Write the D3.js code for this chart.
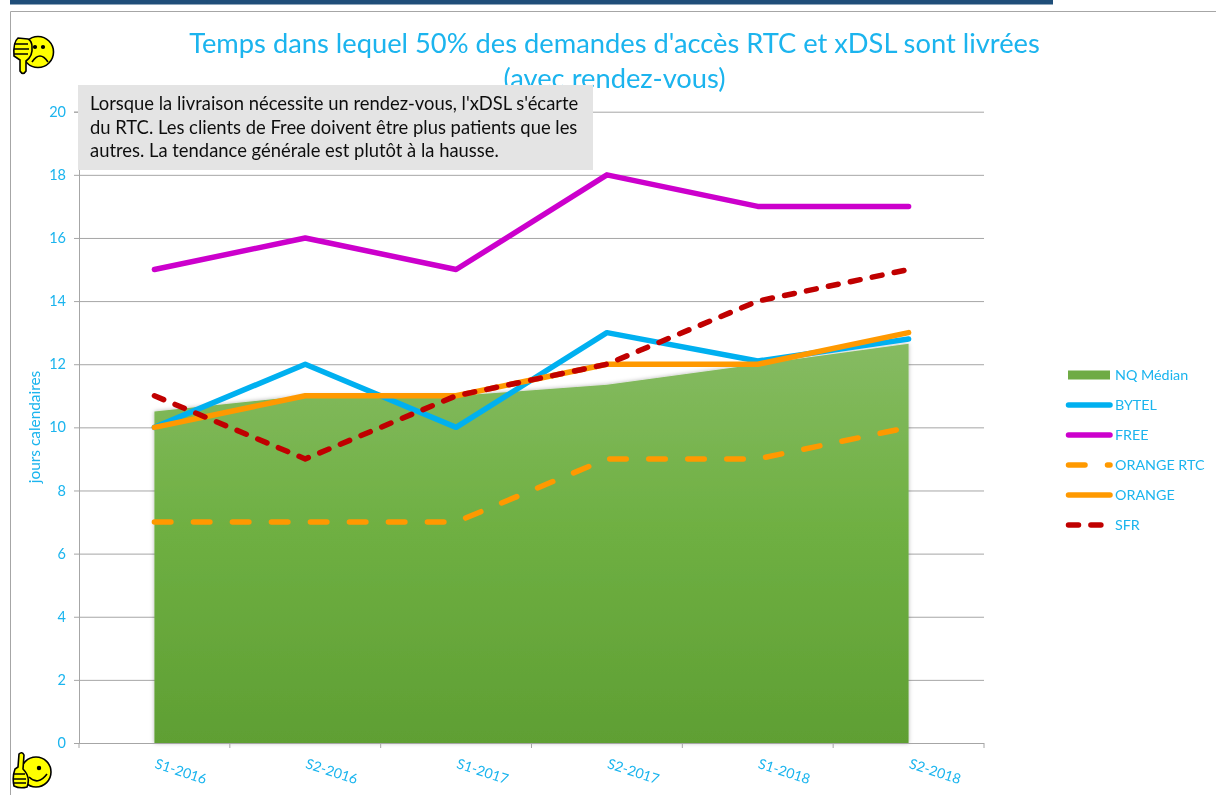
<!DOCTYPE html>
<html><head><meta charset="utf-8">
<script src="https://cdnjs.cloudflare.com/ajax/libs/d3/7.8.5/d3.min.js"></script>
<style>html,body{margin:0;background:#fff}svg{display:block}text{font-family:Lato,"Open Sans",sans-serif}</style>
</head><body><div id="chart"></div>
<script>
const categories=["S1-2016","S2-2016","S1-2017","S2-2017","S1-2018","S2-2018"];
const yTicks=[0,2,4,6,8,10,12,14,16,18,20];
const median=[10.5,11,11,11.35,12,12.65];
const bytel=[10,12,10,13,12.1,12.8];
const free=[15,16,15,18,17,17];
const orangeRtc=[7,7,7,9,9,10];
const orange=[10,11,11,12,12,13];
const sfr=[11,9,11,12,14,15];
const titleLines=["Temps dans lequel 50% des demandes d'accès RTC et xDSL sont livrées","(avec rendez-vous)"];
const noteLines=["Lorsque la livraison nécessite un rendez-vous, l'xDSL s'écarte","du RTC. Les clients de Free doivent être plus patients que les","autres. La tendance générale est plutôt à la hausse."];
const yTitle="jours calendaires";
const series=[
 {name:"BYTEL",values:bytel,color:"#00b0f0",dash:null},
 {name:"FREE",values:free,color:"#cc00cc",dash:null},
 {name:"ORANGE RTC",values:orangeRtc,color:"#ff9900",dash:"16.5 22.5"},
 {name:"ORANGE",values:orange,color:"#ff9900",dash:null},
 {name:"SFR",values:sfr,color:"#c00000",dash:"10 12.4"}];
const blue="#1ab4ee";
const W=1216,H=795;
const svg=d3.select("#chart").append("svg").attr("width",W).attr("height",H).attr("viewBox",`0 0 ${W} ${H}`);
const defs=svg.append("defs");
const g=defs.append("linearGradient").attr("id","ag").attr("x1",0).attr("x2",0).attr("y1",0).attr("y2",1);
g.append("stop").attr("offset","0%").attr("stop-color","#86bb62");
g.append("stop").attr("offset","45%").attr("stop-color","#6fb043");
g.append("stop").attr("offset","100%").attr("stop-color","#5f9f33");
const f=defs.append("filter").attr("id","sh").attr("x","-5%").attr("y","-5%").attr("width","110%").attr("height","110%");
f.append("feGaussianBlur").attr("in","SourceAlpha").attr("stdDeviation",2).attr("result","b");
f.append("feFlood").attr("flood-color","#000").attr("flood-opacity",.3);
f.append("feComposite").attr("in2","b").attr("operator","in").attr("result","s");
const mm=f.append("feMerge");mm.append("feMergeNode").attr("in","s");mm.append("feMergeNode").attr("in","SourceGraphic");
const soft=defs.append("filter").attr("id","soft").attr("x","-5%").attr("y","-20%").attr("width","110%").attr("height","140%");
soft.append("feGaussianBlur").attr("stdDeviation",.35);

// page frame
svg.append("rect").attr("x",10).attr("y",0).attr("width",1043).attr("height",4.5).attr("fill","#1f4e79");
svg.append("path").attr("d","M207 4V0M372 4V0M1045 4V0").attr("stroke","#1f4e79");
svg.append("path").attr("d","M10.5 795V11.5H1216").attr("fill","none").attr("stroke","#a6a6a6").attr("stroke-width",1);

const x=d3.scaleBand().domain(categories).range([79,984]);
const cx=d=>x(d)+x.bandwidth()/2;
const y=d3.scaleLinear().domain([0,20]).range([743,111.7]);

// axes
const gy=svg.append("g").attr("transform","translate(79,0)").call(d3.axisLeft(y).tickValues(yTicks).tickSize(5).tickPadding(8));
gy.select(".domain").attr("stroke","#a6a6a6");
gy.selectAll("line").attr("stroke","#a6a6a6");
gy.selectAll("text").attr("fill",blue).style("font-size","14.5px").attr("filter","url(#soft)");
svg.append("g").selectAll("line").data(yTicks.filter(d=>d>0)).join("line")
 .attr("x1",79).attr("x2",984).attr("y1",d=>y(d)+.5).attr("y2",d=>y(d)+.5).attr("stroke","#a6a6a6");

// area
const area=d3.area().x((d,i)=>cx(categories[i])).y0(y(0)).y1(d=>y(d));
svg.append("path").datum(median).attr("d",area).attr("fill","url(#ag)").attr("filter","url(#sh)");

svg.append("line").attr("x1",74).attr("x2",984).attr("y1",743.5).attr("y2",743.5).attr("stroke","#a6a6a6");
svg.append("g").selectAll("line").data(categories.concat(["end"])).join("line")
 .attr("x1",(d,i)=>i<6?x(d):984).attr("x2",(d,i)=>i<6?x(d):984).attr("y1",743).attr("y2",748).attr("stroke","#a6a6a6");
svg.append("g").attr("filter","url(#soft)").selectAll("text").data(categories).join("text")
 .attr("transform",d=>`translate(${cx(d)+25},776) rotate(18)`).attr("text-anchor","middle").attr("fill",blue)
 .style("font-size","14px").text(d=>d);

// lines
const line=d3.line().x((d,i)=>cx(categories[i])).y(d=>y(d));
svg.append("g").selectAll("path").data(series).join("path")
 .attr("d",d=>line(d.values)).attr("fill","none").attr("stroke",d=>d.color).attr("stroke-width",5.5)
 .attr("stroke-linecap","round").attr("stroke-linejoin","round").attr("stroke-dasharray",d=>d.dash);

// title
svg.append("g").attr("filter","url(#soft)").selectAll("text").data(titleLines).join("text")
 .attr("x",614.5).attr("y",(d,i)=>53+i*35).attr("text-anchor","middle").attr("fill",blue).style("font-size","27.3px").text(d=>d);

// note
svg.append("rect").attr("x",78).attr("y",85).attr("width",515).attr("height",85).attr("fill","#e4e4e4");
svg.append("g").attr("filter","url(#soft)").selectAll("text").data(noteLines).join("text")
 .attr("x",90).attr("y",(d,i)=>110+i*23.5).attr("fill","#111").style("font-size","18.4px").text(d=>d);

// y title
svg.append("text").attr("transform","translate(40,427) rotate(-90)").attr("text-anchor","middle").attr("fill",blue).attr("filter","url(#soft)").style("font-size","15.4px").text(yTitle);

// legend
const legend=[{name:"NQ Médian",area:true}].concat(series);
const ly=d3.scalePoint().domain(legend.map(d=>d.name)).range([375,525]);
const L=svg.append("g");
legend.forEach(d=>{
 const yy=ly(d.name);
 if(d.area){L.append("rect").attr("x",1068).attr("y",yy-4.5).attr("width",42).attr("height",9).attr("fill","#6fab45");}
 else{L.append("line").attr("x1",1068.5).attr("x2",1110).attr("y1",yy).attr("y2",yy).attr("stroke",d.color).attr("stroke-width",5.5)
   .attr("stroke-linecap","round").attr("stroke-dasharray",d.dash);}
 L.append("text").attr("x",1115).attr("y",yy+5).attr("fill",blue).attr("filter","url(#soft)").style("font-size","14.3px").text(d.name);
});

// thumbs icons
function thumbFace(cxp,cyp,up){
 const s=svg.append("g").attr("transform",`translate(${cxp},${cyp})`).attr("stroke","#000").attr("stroke-width",1.6).attr("fill","#ffff00");
 if(up){
  s.append("circle").attr("cx",0).attr("cy",0).attr("r",15);
  s.append("path").attr("d","M-13 -3 L-12 -17 Q-14 -21 -17 -18 L-18 -5 L-21 -3 Q-24 5 -22 14 Q-16 17 -9 15 Q-5 5 -13 -3Z");
  s.append("path").attr("d","M-23 2H-11M-23 7H-10M-22 11H-10").attr("fill","none");
  s.append("circle").attr("cx",3).attr("cy",-4).attr("r",1.4).attr("fill","#000");
  s.append("path").attr("d","M-7 5 Q2 14 11 2").attr("fill","none");
 } else {
  s.append("circle").attr("cx",0).attr("cy",0).attr("r",15.5);
  s.append("path").attr("d","M-10 -13 L-20 -14 Q-25 -10 -24 4 L-18 8 L-18 19 Q-15 24 -12 19 L-12 9 Q-5 4 -6 -5 Q-6 -11 -10 -13Z");
  s.append("path").attr("d","M-24 -8H-10M-24 -3H-9M-24 2H-10").attr("fill","none");
  s.append("circle").attr("cx",-3).attr("cy",-5).attr("r",1.3).attr("fill","#000");
  s.append("circle").attr("cx",5).attr("cy",-5).attr("r",1.3).attr("fill","#000");
  s.append("path").attr("d","M-6 10 Q2 -2 10 10").attr("fill","none");
 }
}
thumbFace(38,52,false);
thumbFace(36,772,true);
</script></body></html>
